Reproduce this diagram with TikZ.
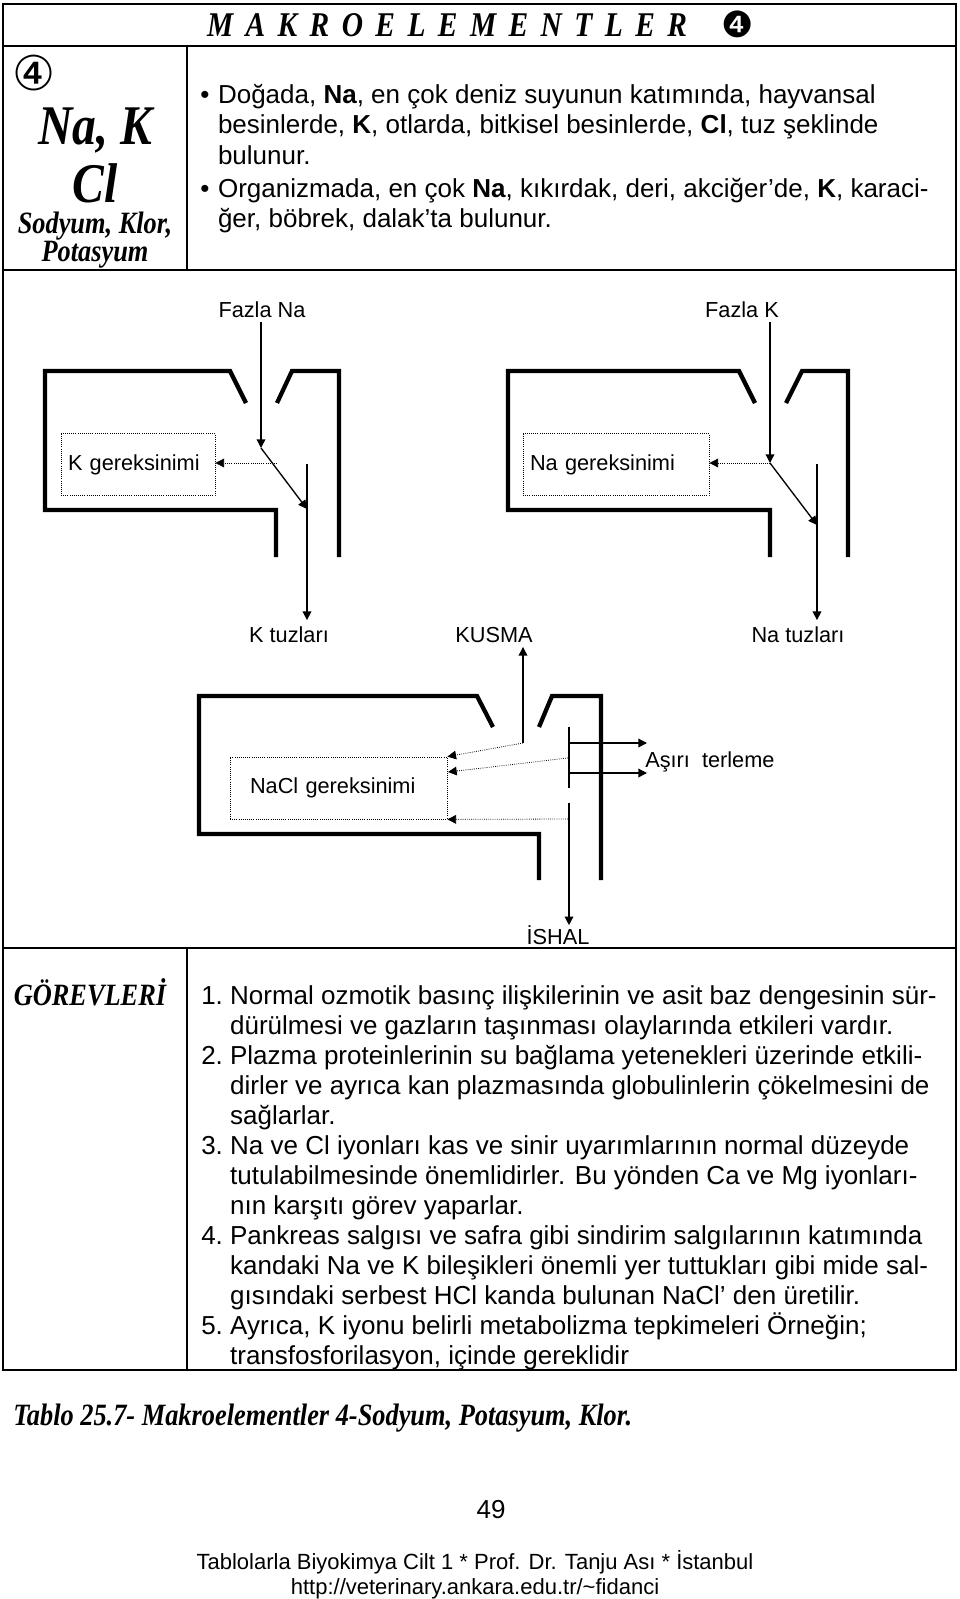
\documentclass[tikz,border=0pt]{standalone}
\usepackage{fontspec}
\setmainfont{Liberation Sans}
\newfontfamily\condserif[FakeStretch=0.85]{Liberation Serif}
\newfontfamily\symfont{DejaVu Sans}
\usetikzlibrary{arrows.meta}

\newcommand{\bodyfont}{\fontsize{19.5}{23}\selectfont}
\newcommand{\labelfont}{\fontsize{16.3}{19}\selectfont}
\newcommand{\headfont}{\condserif\bfseries\itshape\fontsize{23.25}{27}\selectfont}

\begin{document}
\begin{tikzpicture}[
    x=0.75pt, y=-0.75pt,
    frame/.style={line width=2.2pt},
    rule/.style={line width=1.5pt},
    wall/.style={line width=3.2pt},
    bar/.style={line width=1.2pt},
    lbl/.style={font=\labelfont, inner sep=3pt},
    need/.style={draw, densely dotted, line width=0.6pt, font=\labelfont, align=left, minimum height=46pt, inner xsep=5.25pt},
    flow/.style={line width=1pt, -{Triangle[length=6.5pt, width=6.5pt]}},
    leak/.style={line width=0.6pt, densely dotted, -{Triangle[length=6.5pt, width=6.5pt]}},
    head/.style={font=\headfont, inner sep=0}
]
\useasboundingbox (0,0) rectangle (960,1599);

% Frame
\draw[frame] (3,4) rectangle (956,1370);
\draw[rule] (3,46) -- (956,46);
\draw[rule] (3,270) -- (956,270);
\draw[rule] (187,46) -- (187,270);
\draw[rule] (3,948) -- (956,948);
\draw[rule] (187,948) -- (187,1370);

% Title row
\node[head, font=\condserif\bfseries\itshape\fontsize{26}{28}\selectfont] (title) at (447,25) {\makebox[360pt][s]{M A K R O E L E M E N T L E R}};
\node[inner sep=0, font=\symfont\fontsize{27}{28}\selectfont] (titlenum) at (738,24) {❹};

% Element column
\node[inner sep=0, font=\symfont\fontsize{36}{38}\selectfont] (elnum) at (34,73) {④};
\node[head, font=\condserif\bfseries\itshape\fontsize{42}{44}\selectfont] (nak) at (95,130) {Na, K};
\node[head, font=\condserif\bfseries\itshape\fontsize{42}{44}\selectfont] (cl) at (95,183) {Cl};
\node[head] (sodyum) at (95,226) {Sodyum, Klor,};
\node[head] (potasyum) at (95,255) {Potasyum};

% Occurrence
\node[anchor=base west, inner sep=0, font=\bodyfont] (occur) at (200,103) {%
\begin{tabular}[t]{@{}l@{\hspace{6.5pt}}l@{}}
• & Doğada, \textbf{Na}, en çok deniz suyunun katımında, hayvansal\\
  & besinlerde, \textbf{K}, otlarda, bitkisel besinlerde, \textbf{Cl}, tuz şeklinde\\
  & bulunur.\\[1.5pt]
• & Organizmada, en çok \textbf{Na}, kıkırdak, deri, akciğer’de, \textbf{K}, karaci-\\
  & ğer, böbrek, dalak’ta bulunur.
\end{tabular}};

% Excess Na
\node[lbl] (fazlaNa) at (262,310) {Fazla Na};
\draw[wall] (246,403) -- (230,371) -- (45,371) -- (45,510) -- (276,510) -- (276,557);
\draw[wall] (277,403) -- (292,371) -- (339,371) -- (339,557);
\node[need, text width=105pt] (kneed) at (138,464.5) {K gereksinimi};
\coordinate (naSplit) at (261,448);
\coordinate (naDiag) at (307,509);
\coordinate (kTop) at (307,464);
\coordinate (kLeak) at (277,463);
\node[lbl] (ktuz) at (289,635) {K tuzları};
\draw[flow] (fazlaNa.south -| naSplit) -- (naSplit);
\draw[flow] (naSplit) -- (naDiag);
\draw[flow] (kTop) -- ([yshift=2pt]kTop |- ktuz.north);
\draw[leak] (kLeak) -- (kneed.east |- kLeak);

% Excess K
\node[lbl] (fazlaK) at (742,310) {Fazla K};
\draw[wall] (755,403) -- (739,371) -- (508,371) -- (508,510) -- (770,510) -- (770,557);
\draw[wall] (786,403) -- (802,371) -- (848,371) -- (848,557);
\node[need, text width=129pt] (naneed) at (616,464.5) {Na gereksinimi};
\coordinate (kSplit) at (770,463);
\coordinate (kDiag) at (817,525);
\coordinate (naTop) at (817,464);
\node[lbl] (natuz) at (798,635) {Na tuzları};
\draw[flow] (fazlaK.south -| kSplit) -- (kSplit);
\draw[flow] (kSplit) -- (kDiag);
\draw[flow] (naTop) -- ([yshift=2pt]naTop |- natuz.north);
\draw[leak] (kSplit) -- (naneed.east |- kSplit);

% NaCl loss
\node[lbl] (kusma) at (494,635) {KUSMA};
\draw[wall] (493,727) -- (477,696) -- (199,696) -- (199,834) -- (539,834) -- (539,880);
\draw[wall] (539,727) -- (552,696) -- (601,696) -- (601,880);
\node[need, text width=132.75pt, inner xsep=15pt, minimum height=46.5pt] (naclneed) at (338.5,788) {NaCl gereksinimi};
\coordinate (vomit) at (523,743);
\coordinate (sweatTop) at (569,727);
\coordinate (sweatBot) at (569,788);
\coordinate (sweatA) at (569,743);
\coordinate (sweatB) at (569,773);
\coordinate (sweatAEnd) at (647,743);
\coordinate (sweatBEnd) at (647,773);
\coordinate (sweatLeak) at (568,758);
\coordinate (naclMid) at (448,772);
\coordinate (gutTop) at (569,803);
\coordinate (gutLeak) at (568,819);
\node[lbl, anchor=west] (terleme) at (641,762) {Aşırı~ terleme};
\node[lbl] (ishal) at (558,935) {İSHAL};
\draw[flow] (vomit) -- (vomit |- kusma.south);
\draw[leak] (vomit) -- (naclneed.north east);
\draw[bar] (sweatTop) -- (sweatBot);
\draw[flow] (sweatA) -- (sweatAEnd);
\draw[flow] (sweatB) -- (sweatBEnd);
\draw[leak] (sweatLeak) -- (naclMid);
\draw[flow] (gutTop) -- ([yshift=-3pt]gutTop |- ishal.north);
\draw[leak] (gutLeak) -- (naclneed.south east);

% Duties
\node[head, anchor=base] (gorev) at (90,1005) {GÖREVLERİ};
\node[anchor=base west, inner sep=0, font=\fontsize{19.5}{22.5}\selectfont] (duties) at (201,1004) {%
\begin{tabular}[t]{@{}l@{\hspace{5.4pt}}l@{}}
1. & Normal ozmotik basınç ilişkilerinin ve asit baz dengesinin sür-\\
   & dürülmesi ve gazların taşınması olaylarında etkileri vardır.\\
2. & Plazma proteinlerinin su bağlama yetenekleri üzerinde etkili-\\
   & dirler ve ayrıca kan plazmasında globulinlerin çökelmesini de\\
   & sağlarlar.\\
3. & Na ve Cl iyonları kas ve sinir uyarımlarının normal düzeyde\\
   & tutulabilmesinde önemlidirler. Bu yönden Ca ve Mg iyonları-\\
   & nın karşıtı görev yaparlar.\\
4. & Pankreas salgısı ve safra gibi sindirim salgılarının katımında\\
   & kandaki Na ve K bileşikleri önemli yer tuttukları gibi mide sal-\\
   & gısındaki serbest HCl kanda bulunan NaCl’ den üretilir.\\
5. & Ayrıca, K iyonu belirli metabolizma tepkimeleri Örneğin;\\
   & transfosforilasyon, içinde gereklidir
\end{tabular}};

% Caption and footer
\node[head, anchor=base west] (caption) at (13,1425) {Tablo 25.7- Makroelementler 4-Sodyum, Potasyum, Klor.};
\node[inner sep=0, font=\fontsize{19.5}{22}\selectfont] (page) at (491,1510) {49};
\node[inner sep=0, anchor=base, font=\fontsize{16.5}{19}\selectfont] (book) at (475,1569) {Tablolarla Biyokimya Cilt 1 * Prof. Dr. Tanju Ası * İstanbul};
\node[inner sep=0, anchor=base, font=\fontsize{16.5}{19}\selectfont] (url) at (475,1594) {http://veterinary.ankara.edu.tr/\textasciitilde fidanci};

\end{tikzpicture}
\end{document}
